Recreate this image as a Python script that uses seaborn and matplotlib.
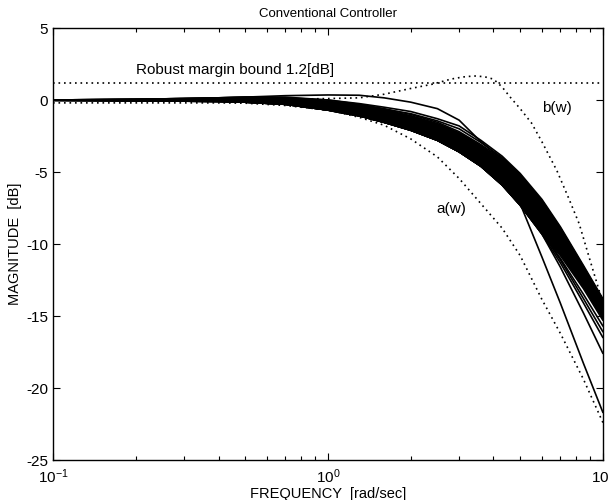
import numpy as np
import pandas as pd
import matplotlib
matplotlib.use("Agg")
import matplotlib.pyplot as plt
import seaborn as sns

# ---- data ----
freq = [0.1, 0.2, 0.3, 0.4, 0.5, 0.7, 1.0, 1.3, 1.6, 2.0, 2.5, 3.0, 3.6, 4.3, 5.0, 6.0, 7.0, 8.5, 10.0]

band_upper = [0.0, 0.05, 0.1, 0.15, 0.2, 0.2, 0.0, -0.3, -0.6, -1.0, -1.55, -2.2, -3.1, -4.1, -5.2, -7.0, -8.9, -11.6, -13.9]
band_lower = [-0.02, -0.05, -0.08, -0.1, -0.15, -0.3, -0.7, -1.1, -1.55, -2.1, -2.8, -3.6, -4.6, -5.9, -7.3, -9.3, -10.8, -13.1, -15.3]

upper_outlier = [0.0, 0.05, 0.1, 0.15, 0.2, 0.3, 0.35, 0.33, 0.15, -0.15, -0.6, -1.4, -2.9, -4.1, -5.2, -7.0, -8.9, -11.6, -13.9]
upper_line1 = [0.0, 0.05, 0.1, 0.15, 0.2, 0.15, 0.0, -0.25, -0.5, -0.8, -1.3, -1.8, -2.8, -3.9, -5.1, -6.9, -8.8, -11.5, -13.8]
upper_line2 = [0.0, 0.05, 0.1, 0.12, 0.15, 0.1, -0.1, -0.35, -0.65, -0.95, -1.45, -2.0, -2.95, -4.0, -5.2, -7.0, -8.9, -11.6, -13.9]
steep_line = [-0.02, -0.05, -0.08, -0.1, -0.15, -0.3, -0.7, -1.1, -1.55, -2.1, -2.8, -3.6, -4.6, -5.8, -7.2, -10.9, -14.1, -18.3, -21.7]
spread1 = [-0.02, -0.05, -0.08, -0.1, -0.15, -0.3, -0.7, -1.1, -1.55, -2.1, -2.8, -3.6, -4.6, -5.9, -7.3, -9.2, -11.0, -13.5, -15.7]
spread2 = [-0.02, -0.05, -0.08, -0.1, -0.15, -0.3, -0.7, -1.1, -1.55, -2.1, -2.8, -3.6, -4.6, -5.9, -7.3, -9.2, -11.1, -13.8, -16.1]
spread3 = [-0.02, -0.05, -0.08, -0.1, -0.15, -0.3, -0.7, -1.1, -1.55, -2.1, -2.8, -3.6, -4.6, -5.9, -7.3, -9.3, -11.3, -14.1, -16.5]
spread4 = [-0.02, -0.05, -0.08, -0.1, -0.15, -0.3, -0.7, -1.1, -1.55, -2.1, -2.8, -3.6, -4.6, -5.9, -7.3, -9.3, -11.6, -14.8, -17.6]

a_w = [-0.2, -0.2, -0.2, -0.2, -0.22, -0.38, -0.7, -1.2, -1.75, -2.7, -3.95, -5.45, -7.2, -8.9, -10.8, -13.85, -16.2, -19.4, -22.4]

freq_b = [0.1, 0.3, 0.5, 0.7, 1.0, 1.3, 1.6, 2.0, 2.4, 2.8, 3.1, 3.4, 3.7, 4.0, 4.3, 4.6, 5.0, 5.5, 6.0, 6.8, 7.5, 8.2, 9.0, 10.0]
b_w = [0.0, 0.02, 0.05, 0.05, 0.1, 0.15, 0.4, 0.8, 1.1, 1.45, 1.6, 1.67, 1.62, 1.45, 0.9, 0.2, -0.6, -1.6, -2.9, -4.9, -6.8, -8.6, -11.2, -14.1]

bound_db = 1.2
x_limits = [0.1, 10.0]
y_ticks = [5, 0, -5, -10, -15, -20, -25]

title = "Conventional Controller"
xlabel = "FREQUENCY  [rad/sec]"
ylabel = "MAGNITUDE  [dB]"
bound_text = "Robust margin bound 1.2[dB]"

# ---- plotting ----
sns.set_theme(style="ticks")
plt.rcParams['font.family'] = ['Liberation Sans', 'DejaVu Sans']
plt.rcParams['axes.unicode_minus'] = False
for key in ['text.color', 'axes.labelcolor', 'xtick.color', 'ytick.color', 'axes.edgecolor']:
    plt.rcParams[key] = 'black'

fig = plt.figure(figsize=(6.09, 5.00), dpi=100)
ax = fig.add_axes([0.087, 0.080, 0.903, 0.864])

# dense band of responses
ax.fill_between(freq, band_lower, band_upper, color="black", lw=0)

solid_curves = [band_upper, band_lower, upper_outlier, upper_line1, upper_line2,
                steep_line, spread1, spread2, spread3, spread4]
for vals in solid_curves:
    sns.lineplot(x=freq, y=vals, ax=ax, color="black", lw=1.2,
                 estimator=None, sort=False)

# bounds
dots = (1, 2.3)
sns.lineplot(x=freq, y=a_w, ax=ax, color="black", lw=1.2, estimator=None, sort=False)
ax.lines[-1].set_dashes(dots)
sns.lineplot(x=freq_b, y=b_w, ax=ax, color="black", lw=1.2, estimator=None, sort=False)
ax.lines[-1].set_dashes(dots)
sns.lineplot(x=x_limits, y=[bound_db, bound_db], ax=ax, color="black", lw=1.2,
             estimator=None, sort=False)
ax.lines[-1].set_dashes(dots)

ax.set_xscale("log")
ax.set_xlim(*x_limits)
ax.set_ylim(-25, 5)
ax.set_yticks(y_ticks)

ax.text(0.2, 2.1, bound_text, ha="left", va="center", fontsize=11)
ax.text(6.8, -0.55, "b(w)", ha="center", va="center", fontsize=11)
ax.text(2.82, -7.6, "a(w)", ha="center", va="center", fontsize=11)

ax.set_title(title, fontsize=9.5, pad=8)
ax.set_xlabel(xlabel, fontsize=10.5, labelpad=1)
ax.set_ylabel(ylabel, fontsize=10.5, labelpad=3)

ax.tick_params(which="both", direction="in", top=True, right=True, labelsize=11, width=0.8)
ax.tick_params(which="major", length=5)
ax.tick_params(which="minor", length=3)
ax.tick_params(axis="x", which="major", pad=5)
for s in ax.spines.values():
    s.set_linewidth(1.0)
    s.set_color("black")

fig.savefig("out.png", dpi=100)
